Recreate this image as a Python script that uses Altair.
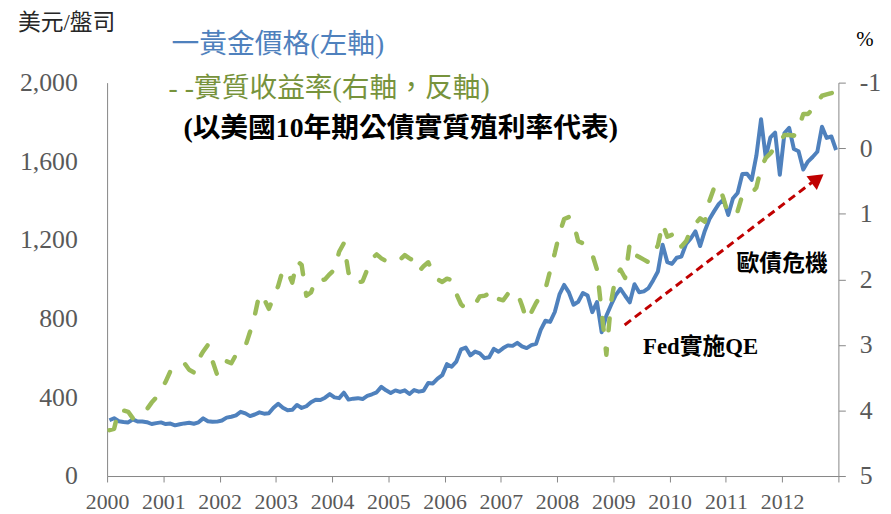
import altair as alt
import pandas as pd

# ---------------- data ----------------
years = list(range(2000, 2013))

# gold price, USD/oz, month-end (Jan..Dec for each year)
gold_price = [
    283.3, 293.7, 278.4, 275.0, 272.3, 288.2, 276.8, 277.0, 273.7, 264.5, 269.1, 272.7,
    264.5, 266.7, 257.7, 263.2, 267.5, 270.6, 265.9, 273.0, 293.1, 278.8, 275.5, 276.5,
    282.3, 296.9, 301.4, 308.2, 326.6, 318.5, 304.7, 312.8, 323.7, 316.9, 319.1, 347.2,
    367.5, 347.5, 334.9, 336.8, 361.4, 346.0, 354.8, 375.6, 388.0, 386.3, 398.4, 416.3,
    399.8, 395.9, 423.7, 388.5, 393.3, 395.8, 391.4, 407.3, 415.7, 425.6, 453.4, 435.6,
    422.2, 435.5, 427.5, 435.7, 417.3, 437.1, 429.0, 433.3, 473.3, 470.8, 495.7, 513.0,
    568.8, 556.0, 582.0, 644.0, 653.0, 613.5, 632.5, 623.5, 599.3, 603.8, 646.7, 632.0,
    650.5, 664.2, 661.8, 677.0, 659.1, 650.5, 665.5, 672.0, 743.0, 789.5, 783.5, 833.8,
    923.3, 971.5, 933.5, 871.0, 885.8, 930.3, 918.0, 833.0, 884.5, 730.8, 814.5, 869.8,
    919.5, 952.0, 916.5, 883.3, 975.5, 934.5, 939.0, 955.5, 995.8, 1040.0, 1175.8, 1087.5,
    1078.5, 1109.5, 1115.5, 1179.3, 1207.5, 1244.0, 1169.0, 1246.0, 1307.0, 1346.8, 1383.5, 1405.5,
    1327.0, 1411.0, 1439.0, 1535.5, 1536.5, 1505.5, 1628.5, 1813.5, 1620.0, 1722.0, 1746.0, 1531.0,
    1744.0, 1770.0, 1662.5, 1651.3, 1558.0, 1598.5, 1622.0, 1648.5, 1776.0, 1719.0, 1726.0, 1657.5,
]

# US 10-year real (TIPS) yield, %, (Jan..Dec for each year)
real_yield = [
    4.30, 4.28, 3.98, 4.00, 4.02, 4.12, 4.08, 4.00, 3.98, 3.88, 3.80, 3.68,
    3.56, 3.40, 3.33, 3.30, 3.28, 3.38, 3.42, 3.22, 3.10, 3.00, 3.25, 3.46,
    3.40, 3.25, 3.28, 3.15, 3.08, 3.02, 2.80, 2.55, 2.22, 2.30, 2.45, 2.28,
    2.10, 1.85, 1.88, 2.05, 1.72, 1.78, 2.25, 2.20, 2.00, 2.02, 2.00, 1.92,
    1.85, 1.58, 1.45, 1.90, 2.06, 2.05, 2.03, 1.85, 1.68, 1.62, 1.68, 1.72,
    1.73, 1.74, 1.70, 1.63, 1.68, 1.72, 1.88, 1.80, 1.74, 1.90, 2.00, 2.04,
    1.99, 2.01, 2.22, 2.38, 2.45, 2.42, 2.38, 2.26, 2.25, 2.22, 2.17, 2.30,
    2.32, 2.22, 2.18, 2.20, 2.40, 2.62, 2.50, 2.36, 2.25, 2.15, 1.87, 1.60,
    1.30, 1.08, 1.05, 1.14, 1.42, 1.45, 1.55, 1.62, 1.85, 2.50, 3.15, 2.35,
    1.95, 1.85, 1.98, 1.45, 1.62, 1.66, 1.70, 1.74, 1.62, 1.48, 1.15, 1.35,
    1.32, 1.30, 1.50, 1.42, 1.25, 1.15, 1.07, 1.12, 0.80, 0.60, 0.56, 0.77,
    1.02, 1.00, 0.96, 0.72, 0.70, 0.69, 0.60, 0.30, 0.15, 0.08, -0.02, -0.10,
    -0.20, -0.20, -0.19, -0.30, -0.52, -0.52, -0.60, -0.70, -0.80, -0.82, -0.84, -0.87,
]

left_ticks = [0, 400, 800, 1200, 1600, 2000]
right_ticks = [-1, 0, 1, 2, 3, 4, 5]
year_ticks = list(range(2000, 2014))

# annotations (x in years, y on the gold axis)
ann_labels = ["歐債危機", "Fed實施QE"]
ann_x = [2012.0, 2010.55]
ann_y = [1076, 657]
arrow_x = [2009.2, 2012.55]
arrow_y = [768, 1497]
arrow_head_x = [2012.63]
arrow_head_y = [1512]

# ---------------- build table ----------------
rows = []
for yi, yr in enumerate(years):
    for m in range(12):
        i = yi * 12 + m
        rows.append({"t": yr + (m + 0.5) / 12, "gold": gold_price[i], "ry": real_yield[i]})
df = pd.DataFrame(rows)

SERIF = "Liberation Serif"
MIXED = "'Liberation Serif', 'Noto Sans CJK TC'"
AXIS_GRAY = "#868686"
LABEL_GRAY = "#595959"

x_scale = alt.Scale(domain=[2000, 2013], nice=False, zero=False)
x_axis = alt.Axis(
    values=year_ticks, format="d",
    labelExpr="datum.value >= 2013 ? '' : datum.label",
    tickSize=6, tickColor=AXIS_GRAY, domainColor=AXIS_GRAY,
    labelFont=SERIF, labelFontSize=22, labelColor=LABEL_GRAY,
    labelPadding=10, grid=False, title=None, labelOverlap=False, labelFlush=False,
)

gold_scale = alt.Scale(domain=[0, 2000], nice=False, zero=True)
gold_axis = alt.Axis(
    values=left_ticks, format=",.0f", ticks=False, labelPadding=30,
    domainColor=AXIS_GRAY, labelFont=SERIF, labelFontSize=26,
    labelColor=LABEL_GRAY, grid=False, title=None,
)


def xq(field):
    return alt.X(field, type="quantitative", scale=x_scale, axis=x_axis, title=None)


def yg(field):
    return alt.Y(field, type="quantitative", scale=gold_scale, axis=gold_axis, title=None)


gold_line = alt.Chart(df).mark_line(color="#4F81BD", strokeWidth=4, strokeJoin="round").encode(
    x=xq("t"), y=yg("gold"),
)

arrow_df = pd.DataFrame({"t": [arrow_x[0]], "t2": [arrow_x[1]], "gold": [arrow_y[0]], "gold2": [arrow_y[1]]})
arrow_rule = alt.Chart(arrow_df).mark_rule(color="#C00000", strokeWidth=3, strokeDash=[8, 5]).encode(
    x=xq("t"), x2="t2:Q", y=yg("gold"), y2="gold2:Q",
)

head_df = pd.DataFrame({"t": arrow_head_x, "gold": arrow_head_y})
arrow_head = alt.Chart(head_df).mark_point(
    shape="triangle-up", filled=True, color="#C00000", size=300, angle=53, opacity=1
).encode(x=xq("t"), y=yg("gold"))

ann_df = pd.DataFrame({"label": ann_labels, "t": ann_x, "gold": ann_y})
ann_text = alt.Chart(ann_df).mark_text(
    font=MIXED, fontSize=23, fontWeight="bold", color="#000000", align="center", baseline="middle"
).encode(x=xq("t"), y=yg("gold"), text="label:N")


def label(text, x, y, size, color, weight="normal"):
    d = pd.DataFrame({"txt": [text]})
    return alt.Chart(d).mark_text(
        font=MIXED, fontSize=size, color=color, fontWeight=weight,
        align="left", baseline="middle",
    ).encode(x=alt.value(x), y=alt.value(y), text="txt:N")


texts = [
    label("美元/盤司", -90, -60, 23, "#262626"),
    label("一黃金價格(左軸)", 65, -38, 28, "#4F81BD"),
    label("- -實質收益率(右軸，反軸)", 62, 7, 28, "#77933C"),
    label("(以美國10年期公債實質殖利率代表)", 77, 47, 28, "#000000", "bold"),
    label("%", 756, -43, 21, "#000000"),
]

gold_layer = alt.layer(gold_line, arrow_rule, arrow_head, ann_text, *texts)

yield_line = alt.Chart(df).mark_line(
    color="#9BBB59", strokeWidth=4.5, strokeDash=[12, 19], strokeCap="round", strokeJoin="round"
).encode(
    x=xq("t"),
    y=alt.Y(
        "ry:Q",
        scale=alt.Scale(domain=[-1, 5], reverse=True, nice=False, zero=False),
        axis=alt.Axis(
            orient="right", values=right_ticks, tickSize=7,
            labelExpr="datum.value < 0 ? '-' + abs(datum.value) : '' + datum.value",
            tickColor=AXIS_GRAY, domainColor=AXIS_GRAY, labelPadding=14,
            labelFont=SERIF, labelFontSize=26, labelColor=LABEL_GRAY,
            grid=False, title=None,
        ),
    ),
)

chart = (
    alt.layer(gold_layer, yield_line)
    .resolve_scale(y="independent")
    .properties(
        width=738, height=397,
        autosize=alt.AutoSizeParams(type="none"),
        padding={"left": 100, "top": 73, "right": 45, "bottom": 35},
        background="white",
    )
    .configure_view(stroke=None)
)

chart.save("out.html", embed_options={"renderer": "svg", "actions": False})
